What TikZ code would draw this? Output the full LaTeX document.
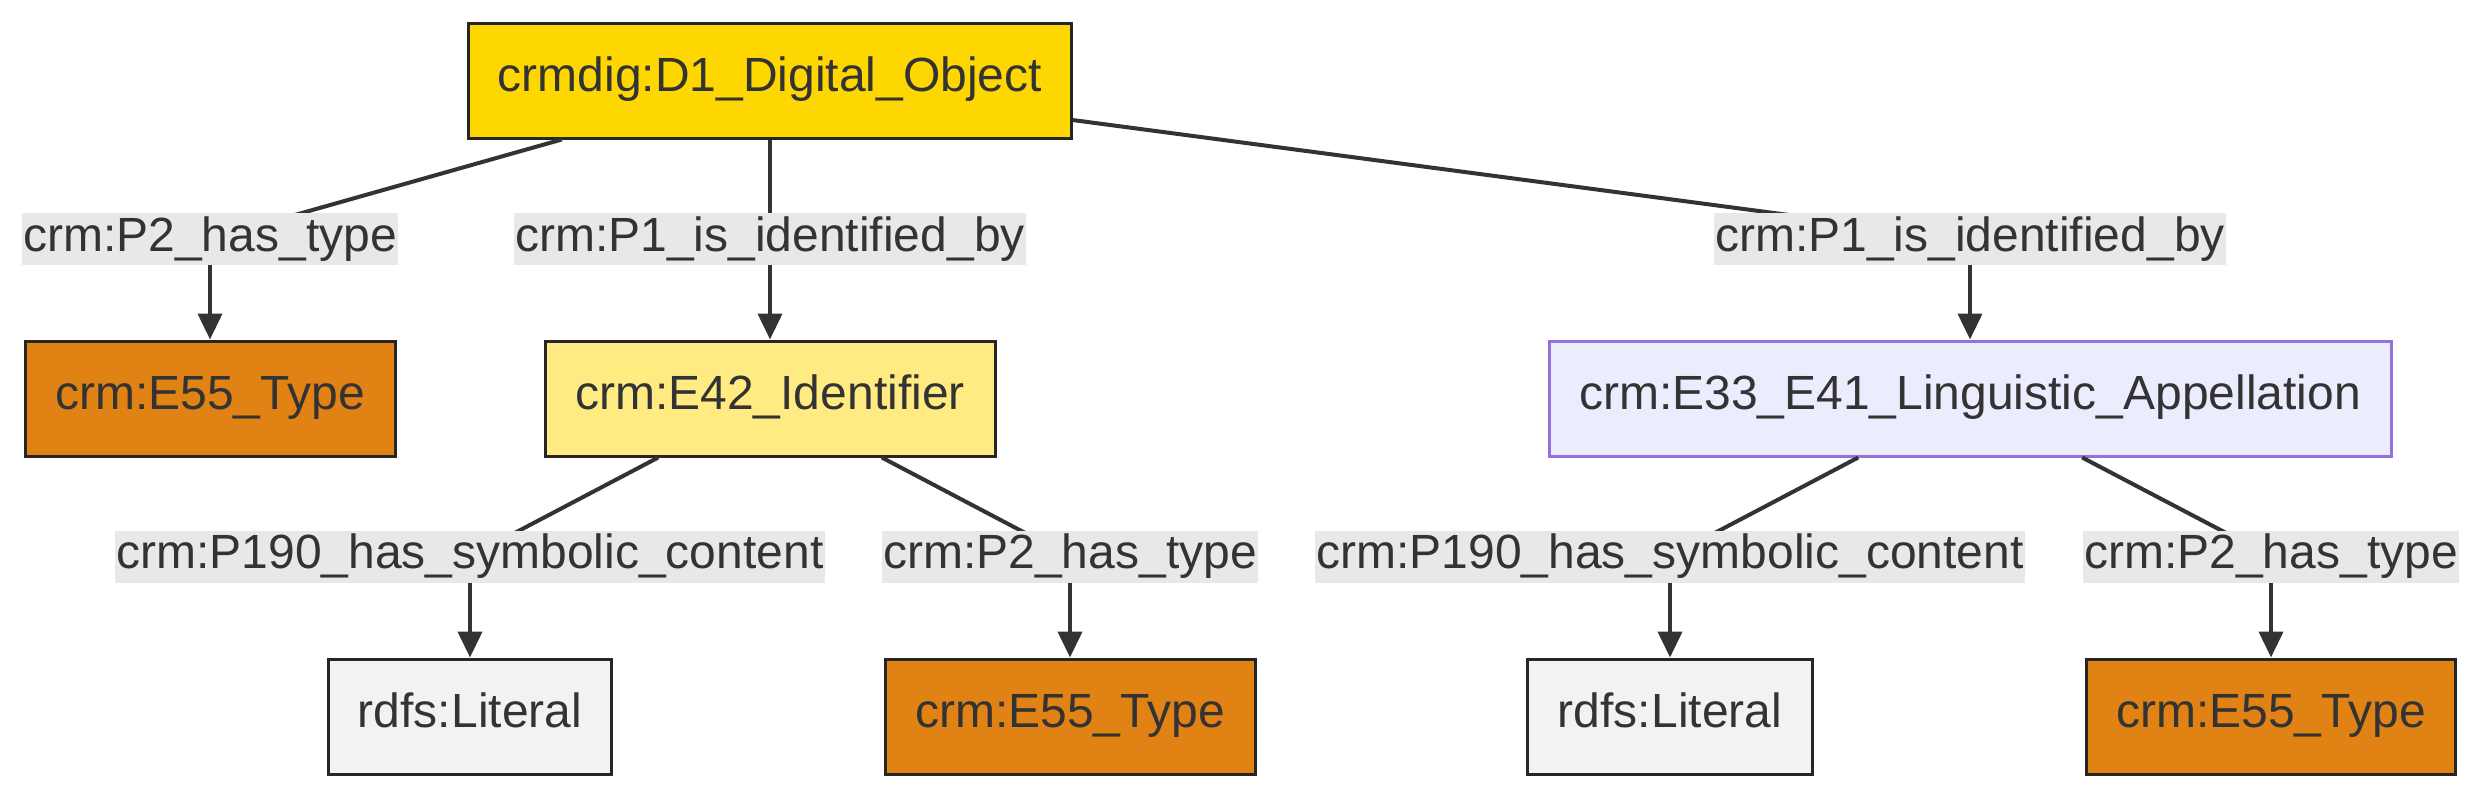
\documentclass[tikz,border=0pt]{standalone}
\usepackage{fontspec}
\setmainfont{Liberation Sans}
\usetikzlibrary{arrows.meta}
\definecolor{txt}{HTML}{333333}
\definecolor{edgec}{HTML}{333333}
\definecolor{gold}{HTML}{FFD700}
\definecolor{typeor}{HTML}{E08214}
\definecolor{identy}{HTML}{FFEB82}
\definecolor{appfill}{HTML}{ECECFF}
\definecolor{appdraw}{HTML}{9370DB}
\definecolor{litfill}{HTML}{F2F2F2}
\definecolor{lblbg}{HTML}{E8E8E8}
\tikzset{
  box/.style={draw=black!85, line width=3pt, minimum height=115pt, inner sep=0pt, text=txt, font=\fontsize{48}{56}\selectfont, text height=36pt, text depth=14pt},
  dobj/.style={box, fill=gold},
  typebox/.style={box, fill=typeor},
  idbox/.style={box, fill=identy},
  appbox/.style={box, fill=appfill, draw=appdraw},
  litbox/.style={box, fill=litfill},
  lbl/.style={fill=lblbg, text=txt, inner xsep=1.5pt, inner ysep=0pt, minimum height=52pt, font=\fontsize{48}{56}\selectfont},
  conn/.style={draw=edgec, line width=4pt},
  arr/.style={conn, -{Triangle[length=26pt,width=24pt]}}
}
\begin{document}
\begin{tikzpicture}[x=1pt,y=-1pt]
\useasboundingbox (0,0) rectangle (2484,798);
% nodes
\node[dobj, minimum width=603pt] (top) at (770,80.5) {crmdig:D1\_Digital\_Object};
\node[typebox, minimum width=370pt] (t1) at (210,398.5) {crm:E55\_Type};
\node[idbox, minimum width=450pt] (id) at (770,398.5) {crm:E42\_Identifier};
\node[appbox, minimum width=842pt] (app) at (1970,398.5) {crm:E33\_E41\_Linguistic\_Appellation};
\node[litbox, minimum width=283pt] (lit1) at (470,716.5) {rdfs:Literal};
\node[typebox, minimum width=370pt] (t2) at (1070,716.5) {crm:E55\_Type};
\node[litbox, minimum width=285pt] (lit2) at (1670,716.5) {rdfs:Literal};
\node[typebox, minimum width=369pt] (t3) at (2271,716.5) {crm:E55\_Type};
% label anchor coordinates
\coordinate (c1) at (210,239);
\coordinate (c2) at (770,239);
\coordinate (c3) at (1970,239);
\coordinate (c4) at (470,556.5);
\coordinate (c5) at (1070,556.5);
\coordinate (c6) at (1670,556.5);
\coordinate (c7) at (2271,556.5);
% first segments (hidden under labels)
\draw[conn] (top) -- (c1);
\draw[conn] (top) -- (c2);
\draw[conn] (top) -- (c3);
\draw[conn] (id) -- (c4);
\draw[conn] (id) -- (c5);
\draw[conn] (app) -- (c6);
\draw[conn] (app) -- (c7);
% labels
\node[lbl] (l1) at (c1) {crm:P2\_has\_type};
\node[lbl] (l2) at (c2) {crm:P1\_is\_identified\_by};
\node[lbl] (l3) at (c3) {crm:P1\_is\_identified\_by};
\node[lbl] (l4) at (c4) {crm:P190\_has\_symbolic\_content};
\node[lbl] (l5) at (c5) {crm:P2\_has\_type};
\node[lbl] (l6) at (c6) {crm:P190\_has\_symbolic\_content};
\node[lbl] (l7) at (c7) {crm:P2\_has\_type};
% arrows
\draw[arr] (l1.south) -- (l1.south |- t1.north);
\draw[arr] (l2.south) -- (l2.south |- id.north);
\draw[arr] (l3.south) -- (l3.south |- app.north);
\draw[arr] (l4.south) -- (l4.south |- lit1.north);
\draw[arr] (l5.south) -- (l5.south |- t2.north);
\draw[arr] (l6.south) -- (l6.south |- lit2.north);
\draw[arr] (l7.south) -- (l7.south |- t3.north);
\end{tikzpicture}
\end{document}
